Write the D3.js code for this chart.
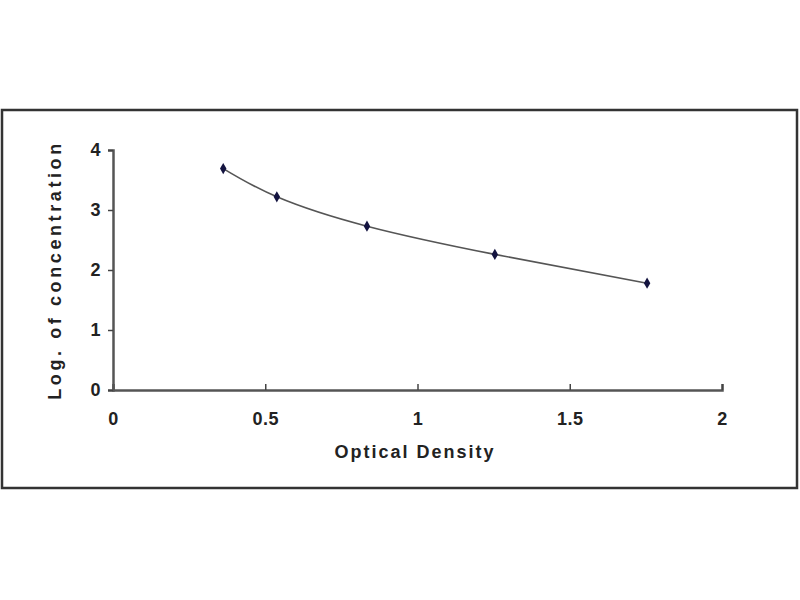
<!DOCTYPE html>
<html><head><meta charset="utf-8">
<script src="https://cdn.jsdelivr.net/npm/d3@7"></script>
<style>
html,body{margin:0;padding:0;background:#fff;}
text{font-family:"Liberation Sans",Arial,sans-serif;font-weight:bold;fill:#222;}
</style></head>
<body><svg id="c" width="800" height="600"></svg>
<script>
const odValues = [0.362, 0.538, 0.834, 1.254, 1.754];
const logConc = [3.69, 3.22, 2.73, 2.26, 1.78];
const xTicks = [0, 0.5, 1, 1.5, 2];
const yTicks = [0, 1, 2, 3, 4];
const xLabel = "Optical Density";
const yLabel = "Log. of concentration";

const svg = d3.select("#c");
svg.append("rect").attr("x",2).attr("y",110).attr("width",795).attr("height",378)
  .attr("fill","#fff").attr("stroke","#333").attr("stroke-width",2.5);

const x = d3.scaleLinear().domain([0,2]).range([113,722]);
const y = d3.scaleLinear().domain([0,4]).range([390,150]);

const xAxis = svg.append("g").attr("transform","translate(0,390)")
  .call(d3.axisBottom(x).tickValues(xTicks).tickSize(-6).tickPadding(22).tickFormat(d3.format("")));
const yAxis = svg.append("g").attr("transform","translate(113,0)")
  .call(d3.axisLeft(y).tickValues(yTicks).tickSize(5).tickPadding(7).tickFormat(d3.format("")));
[xAxis,yAxis].forEach(a=>{
  a.select(".domain").attr("stroke","#555").attr("stroke-width",2.5);
  a.selectAll(".tick line").attr("stroke","#444").attr("stroke-width",1.5);
  a.selectAll(".tick text").attr("font-size",18).attr("letter-spacing",0.5)
    .attr("font-family","Liberation Sans, Arial, sans-serif").attr("font-weight","bold").attr("fill","#222");
});

const pts = odValues.map((v,i)=>[v,logConc[i]]);
svg.append("path").datum(pts)
  .attr("d", d3.line().x(d=>x(d[0])).y(d=>y(d[1])).curve(d3.curveNatural))
  .attr("fill","none").attr("stroke","#555").attr("stroke-width",1.6);
svg.selectAll("path.pt").data(pts).enter().append("path").attr("class","pt")
  .attr("transform",d=>`translate(${x(d[0])},${y(d[1])})`)
  .attr("d", d3.symbol(d3.symbolDiamond, 36))
  .attr("fill","#141440");

svg.append("text").attr("x",415).attr("y",458).attr("text-anchor","middle")
  .attr("font-size",18).attr("letter-spacing",2).text(xLabel);
svg.append("text").attr("transform","translate(61,270) rotate(-90)").attr("text-anchor","middle")
  .attr("font-size",18).attr("letter-spacing",3.6).text(yLabel);
</script></body></html>
